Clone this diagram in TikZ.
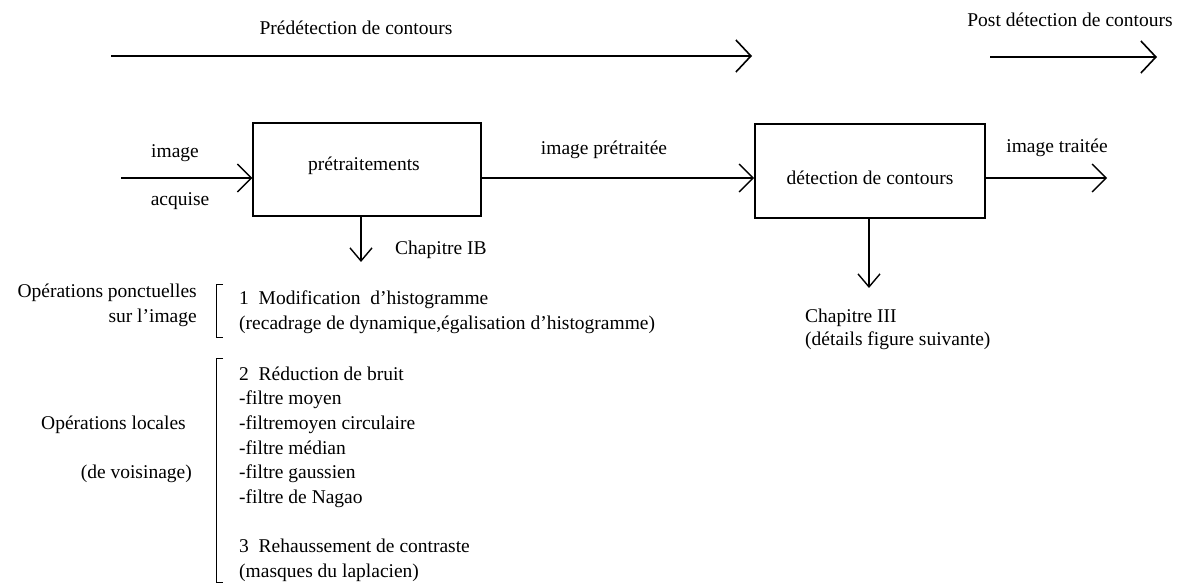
\documentclass[tikz,border=0pt]{standalone}
\usepackage{fontspec}
\setmainfont{Liberation Serif}
\usetikzlibrary{arrows.meta}
\begin{document}
\begin{tikzpicture}[x=1pt,y=-1pt,
  every node/.style={font=\fontsize{19.5}{23}\selectfont, inner sep=0pt, text height=14pt, text depth=4pt},
  proc/.style={draw, line width=1.3pt},
  flow/.style={line width=1.2pt, -{Straight Barb[length=14pt,width=28pt,line width=1.4pt]}},
  bigflow/.style={line width=1.2pt, -{Straight Barb[length=15pt,width=32pt,line width=1.6pt]}},
  downflow/.style={line width=1.2pt, -{Straight Barb[length=13pt,width=22pt,line width=1.4pt]}},
  brk/.style={line width=1pt},
  txt/.style={anchor=west}]
\useasboundingbox (0,0) rectangle (1191,585);

% top phase arrows
\coordinate (t1s) at (111,56);
\coordinate (t1e) at (752,56);
\coordinate (t2s) at (990,57);
\coordinate (t2e) at (1157,57);
\draw[bigflow] (t1s) -- (t1e);
\draw[bigflow] (t2s) -- (t2e);
\node (pre) at (356,30) {Prédétection de contours};
\node (post) at (1070,22) {Post détection de contours};

% boxes
\node[proc, minimum width=228pt, minimum height=93pt] (b1) at (367,169.5) {};
\node (b1t) at (364,166) {prétraitements};
\node[proc, line width=1.7pt, minimum width=230pt, minimum height=94pt] (b2) at (870,171) {};
\node (b2t) at (870,180) {détection de contours};

% main flow
\coordinate (row) at (0,178);
\coordinate (in) at (121,178);
\coordinate (out) at (1107,178);
\draw[flow] (in) -- (b1.west |- row);
\draw[flow] (b1.east |- row) -- (b2.west |- row);
\draw[flow] (b2.east |- row) -- (out);
\node (img) at (175,153) {image};
\node (acq) at (180,201) {acquise};
\node (imgp) at (604,150) {image prétraitée};
\node (imgt) at (1057,148) {image traitée};

% down arrows
\coordinate (c1) at (361,262);
\coordinate (c3) at (869,288);
\draw[downflow] (b1.south -| c1) -- (c1);
\draw[downflow] (b2.south -| c3) -- (c3);
\node[txt] (chIB) at (395,250) {Chapitre IB};
\node[txt] (chIII) at (805,318) {Chapitre III};
\node[txt] (chIIIb) at (805,340) {(détails figure suivante)};

% group 1
\node[anchor=east] (op1) at (197,293) {Opérations ponctuelles};
\node[anchor=east] (op1b) at (197,317) {sur l'image};
\draw[brk] (223,285) -- (216,285) -- (216,337) -- (223,337);
\node[txt] (l1) at (239,300) {1\ \ Modification\ \ d'histogramme};
\node[txt] (l1b) at (239,325) {(recadrage de dynamique,égalisation d'histogramme)};

% group 2
\node[anchor=east] (op2) at (186,424) {Opérations locales};
\node[anchor=east] (op2b) at (192,473) {(de voisinage)};
\draw[brk] (223,358) -- (216,358) -- (216,582) -- (223,582);
\node[txt] (l2) at (239,375) {2\ \ Réduction de bruit};
\node[txt] (l3) at (239,399.6) {-filtre moyen};
\node[txt] (l4) at (239,424) {-filtremoyen circulaire};
\node[txt] (l5) at (239,449) {-filtre médian};
\node[txt] (l6) at (239,473) {-filtre gaussien};
\node[txt] (l7) at (239,498) {-filtre de Nagao};
\node[txt] (l8) at (239,547) {3\ \ Rehaussement de contraste};
\node[txt] (l9) at (239,572) {(masques du laplacien)};
\end{tikzpicture}
\end{document}
